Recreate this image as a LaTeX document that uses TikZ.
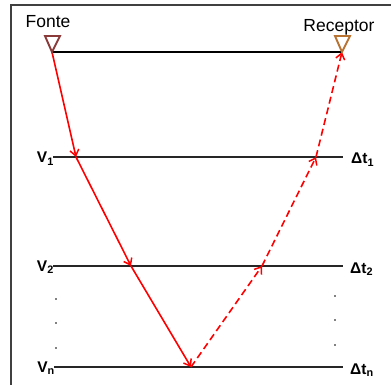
\documentclass[tikz,border=0pt]{standalone}
\usepackage{fontspec}
\setmainfont{Liberation Sans}
\usetikzlibrary{arrows.meta}
\definecolor{fonte}{HTML}{8B3A3A}
\definecolor{recep}{HTML}{B87333}
\definecolor{frame}{HTML}{404040}
\begin{document}
\begin{tikzpicture}[x=1pt,y=-1pt,
  layer/.style={line width=1.5pt, draw=black!85},
  ray/.style={red, line width=1.6pt, -{Straight Barb[length=6pt,width=9pt,line width=1.5pt]}},
  rayback/.style={ray, dash pattern=on 7pt off 4pt},
  lbl/.style={font=\fontsize{17.5}{17.5}\selectfont, anchor=base, inner sep=0pt},
  vlbl/.style={font=\fontsize{15.5}{15.5}\selectfont\bfseries, inner sep=0pt},
  dot/.style={circle, fill=black, inner sep=0pt, minimum size=1.8pt}]
\useasboundingbox (0,0) rectangle (391,385);
% frame
\draw[frame, line width=1.6pt] (11,385) -- (11,5) -- (391,5);
% points
\coordinate (src) at (52,52);
\coordinate (rcv) at (342,52);
\coordinate (p1) at (76,157);
\coordinate (p2) at (131,266);
\coordinate (pn) at (191,367);
\coordinate (q2) at (262,266);
\coordinate (q1) at (316,157);
% labels
\node[lbl] (lf) at (48,28) {Fonte};
\node[lbl] (lr) at (339,32) {Receptor};
% layer lines
\coordinate (a0) at (52,52); \coordinate (b0) at (342,52);
\coordinate (a1) at (53,157); \coordinate (b1) at (343,157);
\coordinate (a2) at (53,266); \coordinate (b2) at (343,266);
\coordinate (an) at (54,367); \coordinate (bn) at (343,367);
\draw[line width=1.4pt] (a0) -- (b0);
\draw[layer] (a1) -- (b1);
\draw[layer] (a2) -- (b2);
\draw[layer] (an) -- (bn);
% V labels
\node[vlbl, anchor=base east] (v1) at (54,163) {V\textsubscript{1}};
\node[vlbl, anchor=base east] (v2) at (54,271) {V\textsubscript{2}};
\node[vlbl, anchor=base east] (vn) at (55,372) {V\textsubscript{n}};
\node[vlbl, anchor=base west] (t1) at (351,164) {Δt\textsubscript{1}};
\node[vlbl, anchor=base west] (t2) at (350,273) {Δt\textsubscript{2}};
\node[vlbl, anchor=base west] (tn) at (350,374) {Δt\textsubscript{n}};
% dots
\node[dot] (dl1) at (56,299) {}; \node[dot] (dl2) at (56,323) {}; \node[dot] (dl3) at (56,348) {};
\node[dot] (dr1) at (335,296) {}; \node[dot] (dr2) at (335,320) {}; \node[dot] (dr3) at (335,345) {};
% rays
\draw[ray] (src) -- (p1);
\draw[ray] (p1) -- (p2);
\draw[ray] (p2) -- (pn);
\draw[rayback] (pn) -- (q2);
\draw[rayback] (q2) -- (q1);
\draw[rayback] (q1) -- (rcv);
% triangles
\draw[fonte, line width=1.9pt, line join=miter] (45,36) -- (60,36) -- (src) -- cycle;
\draw[recep, line width=1.9pt, line join=miter] (335,36) -- (350,36) -- (rcv) -- cycle;
\end{tikzpicture}
\end{document}
